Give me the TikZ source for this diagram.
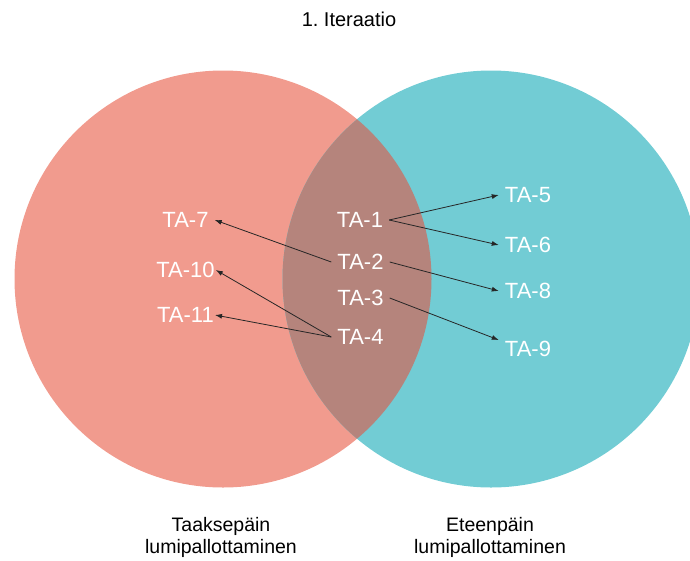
\documentclass[tikz,border=0pt]{standalone}
\usepackage{fontspec}
\setmainfont{Liberation Sans}
\usetikzlibrary{arrows.meta}
\definecolor{salmon}{RGB}{241,155,142}
\definecolor{tealc}{RGB}{114,204,212}
\definecolor{overlap}{RGB}{181,132,124}
\tikzset{
  lbl/.style={text=white, font=\fontsize{22}{26}\selectfont, inner xsep=6pt, inner ysep=0pt},
  bottomcap/.style={text=black, font=\fontsize{19.5}{22}\selectfont, align=center},
  arr/.style={-{Latex[length=7pt,width=5pt]}, line width=0.8pt, draw=black!85}
}
\begin{document}
\begin{tikzpicture}[x=1pt,y=-1pt]
\useasboundingbox (0,0) rectangle (690,560);
\begin{scope}
\clip (0,0) rectangle (690,560);
\fill[salmon] (223,279) circle (208.5);
\fill[tealc] (491,279) circle (208.5);
\begin{scope}
\clip (223,279) circle (208.5);
\fill[overlap] (491,279) circle (208.5);
\end{scope}
\end{scope}

\node[font=\fontsize{20}{24}\selectfont, anchor=base] (title) at (349,26.7) {1.\ Iteraatio};

\node[lbl] (t1) at (360,220) {TA-1};
\node[lbl] (t2) at (360.5,262) {TA-2};
\node[lbl] (t3) at (360.5,298) {TA-3};
\node[lbl] (t4) at (360.5,337) {TA-4};
\node[lbl] (t5) at (528,195) {TA-5};
\node[lbl] (t6) at (528,245) {TA-6};
\node[lbl] (t8) at (528,291) {TA-8};
\node[lbl] (t9) at (528,349) {TA-9};
\node[lbl] (t7) at (185.5,220) {TA-7};
\node[lbl, inner xsep=1pt] (t10) at (185.5,270) {TA-10};
\node[lbl, inner xsep=1pt] (t11) at (185.5,315) {TA-11};

\draw[arr] (t1.east) -- (t5.west);
\draw[arr] (t1.east) -- (t6.west);
\draw[arr] (t2.east) -- (t8.west);
\draw[arr] (t3.east) -- ([yshift=9pt]t9.west);
\draw[arr] (t2.west) -- (t7.east);
\draw[arr] (t4.west) -- (t10.east);
\draw[arr] (t4.west) -- (t11.east);

\node[bottomcap, anchor=base] (lt) at (221,553.3) {Taaksepäin\\lumipallottaminen};
\node[bottomcap, anchor=base] (rt) at (490,553.3) {Eteenpäin\\lumipallottaminen};
\end{tikzpicture}
\end{document}
